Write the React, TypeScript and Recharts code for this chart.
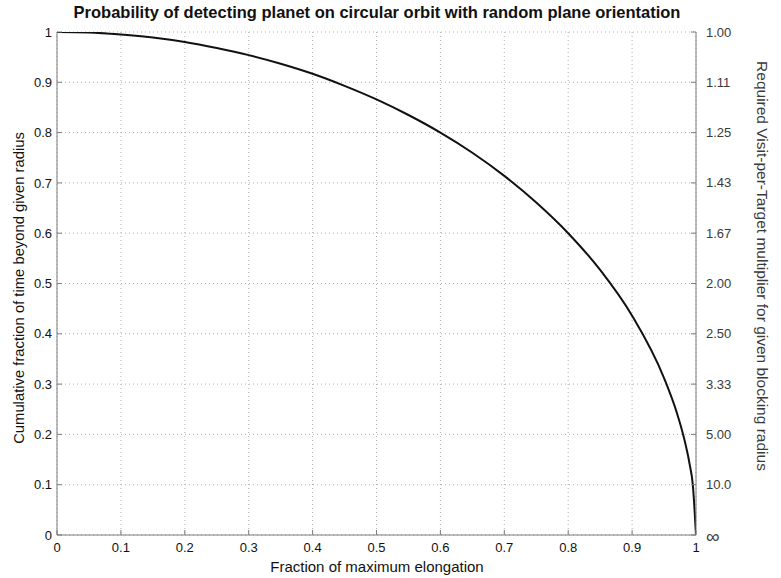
import React from "react";
import { LineChart, Line, XAxis, YAxis, CartesianGrid } from "recharts";

// Fraction of maximum elongation (x) vs cumulative fraction of time beyond radius (y)
const elongation = [
  0, 0.05, 0.1, 0.15, 0.2, 0.25, 0.3, 0.35, 0.4, 0.45, 0.5, 0.55, 0.6, 0.65,
  0.7, 0.75, 0.8, 0.85, 0.9, 0.95, 0.97, 0.98, 0.99, 0.995, 1,
];
const timeFraction = [
  1, 0.999, 0.995, 0.989, 0.98, 0.968, 0.954, 0.937, 0.917, 0.893, 0.866,
  0.835, 0.8, 0.76, 0.714, 0.661, 0.6, 0.527, 0.436, 0.312, 0.243, 0.199,
  0.141, 0.1, 0,
];

const xTicks = [0, 0.1, 0.2, 0.3, 0.4, 0.5, 0.6, 0.7, 0.8, 0.9, 1];
const yTicks = [0, 0.1, 0.2, 0.3, 0.4, 0.5, 0.6, 0.7, 0.8, 0.9, 1];
const xTickLabels = ["0", "0.1", "0.2", "0.3", "0.4", "0.5", "0.6", "0.7", "0.8", "0.9", "1"];
const yTickLabels = ["0", "0.1", "0.2", "0.3", "0.4", "0.5", "0.6", "0.7", "0.8", "0.9", "1"];
// right axis: 1 / fraction
const multiplierLabels = ["\u221E", "10.0", "5.00", "3.33", "2.50", "2.00", "1.67", "1.43", "1.25", "1.11", "1.00"];

const TITLE = "Probability of detecting planet on circular orbit with random plane orientation";
const X_LABEL = "Fraction of maximum elongation";
const Y_LABEL = "Cumulative fraction of time beyond given radius";
const Y2_LABEL = "Required Visit-per-Target multiplier for given blocking radius";

const chartData = elongation.map((x, i) => ({ x, y: timeFraction[i] }));

const FONT = "'Liberation Sans', Arial, Helvetica, sans-serif";
const AXIS = "#7d7d7d";

// right-hand tick: the infinity sign is drawn larger
const MultiplierTick = (props: any) => {
  const { x, y, payload } = props;
  const label = multiplierLabels[yTicks.indexOf(payload.value)] ?? "";
  const isInf = label === "\u221E";
  return (
    <text
      x={x}
      y={y + (isInf ? 1 : 0)}
      dy="0.35em"
      textAnchor="start"
      fill="#3a3a3a"
      fontSize={isInf ? 19 : 13}
      fontFamily={FONT}
    >
      {label}
    </text>
  );
};

const rotated = (
  text: string,
  cx: number,
  cy: number,
  deg: number,
  size: number,
  color: string
) => {
  const w = 520;
  const h = 20;
  return (
    <div
      style={{
        position: "absolute",
        left: cx - w / 2,
        top: cy - h / 2,
        width: w,
        height: h,
        lineHeight: `${h}px`,
        textAlign: "center",
        fontSize: size,
        color,
        whiteSpace: "nowrap",
        transform: `rotate(${deg}deg)`,
        transformOrigin: "50% 50%",
      }}
    >
      {text}
    </div>
  );
};

export default function App() {
  return (
    <div
      style={{
        position: "fixed",
        left: 0,
        top: 0,
        width: 781,
        height: 578,
        background: "#fff",
        fontFamily: FONT,
      }}
    >
      <LineChart
        width={781}
        height={578}
        data={chartData}
        margin={{ top: 32, right: 0, bottom: 0, left: 0 }}
        style={{ fontFamily: FONT }}
      >
        <CartesianGrid
          xAxisId="x"
          yAxisId="left"
          stroke="#b0b0b0"
          strokeDasharray="1 3"
        />
        <XAxis
          xAxisId="x"
          dataKey="x"
          type="number"
          domain={[0, 1]}
          ticks={xTicks}
          allowDataOverflow
          height={43}
          tickSize={-5}
          tickMargin={13}
          interval={0}
          tickFormatter={(v) => xTickLabels[xTicks.indexOf(v)] ?? ""}
          tick={{ fill: "#111", fontSize: 13 }}
          stroke={AXIS}
        />
        <XAxis
          xAxisId="top"
          orientation="top"
          type="number"
          domain={[0, 1]}
          ticks={xTicks}
          allowDataOverflow
          height={0}
          tickSize={-5}
          tick={false}
          interval={0}
          stroke={AXIS}
        />
        <YAxis
          yAxisId="left"
          type="number"
          domain={[0, 1]}
          ticks={yTicks}
          allowDataOverflow
          width={57}
          tickSize={-5}
          tickMargin={10}
          interval={0}
          tickFormatter={(v) => yTickLabels[yTicks.indexOf(v)] ?? ""}
          tick={{ fill: "#111", fontSize: 13 }}
          stroke={AXIS}
        />
        <YAxis
          yAxisId="right"
          orientation="right"
          type="number"
          domain={[0, 1]}
          ticks={yTicks}
          allowDataOverflow
          width={85}
          tickSize={-5}
          tickMargin={15}
          interval={0}
          tick={<MultiplierTick />}
          stroke={AXIS}
        />
        <Line
          xAxisId="x"
          yAxisId="left"
          type="monotone"
          dataKey="y"
          stroke="#111"
          strokeWidth={2}
          dot={false}
          isAnimationActive={false}
        />
      </LineChart>
      <div
        style={{
          position: "absolute",
          left: 27,
          width: 700,
          top: 2,
          lineHeight: "20px",
          textAlign: "center",
          fontSize: 16.5,
          fontWeight: "bold",
          color: "#111",
          whiteSpace: "nowrap",
        }}
      >
        {TITLE}
      </div>
      <div
        style={{
          position: "absolute",
          left: 127,
          width: 500,
          top: 558,
          lineHeight: "18px",
          textAlign: "center",
          fontSize: 15,
          color: "#111",
          whiteSpace: "nowrap",
        }}
      >
        {X_LABEL}
      </div>
      {rotated(Y_LABEL, 19, 288, -90, 14.8, "#111")}
      {rotated(Y2_LABEL, 762, 266, 90, 15.5, "#3a3a3a")}
    </div>
  );
}
